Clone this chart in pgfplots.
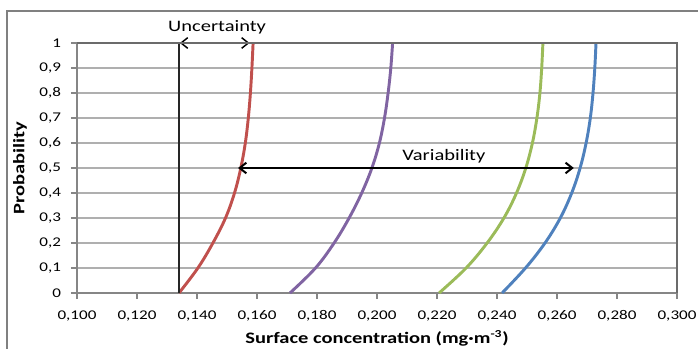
\documentclass[border=0pt]{standalone}
\usepackage{fontspec}
\setmainfont{Carlito}[FakeStretch=1.28]
\usepackage{pgfplots}
\pgfplotsset{compat=1.18}
\usetikzlibrary{arrows.meta}
\definecolor{xred}{RGB}{192,80,77}
\definecolor{xpurple}{RGB}{128,100,162}
\definecolor{xgreen}{RGB}{155,187,89}
\definecolor{xblue}{RGB}{79,129,189}
\definecolor{axgray}{RGB}{134,134,134}
\definecolor{gridgray}{RGB}{175,175,175}
\begin{document}
\begin{tikzpicture}
\begin{axis}[
  at={(0,0)}, anchor=south west,
  scale only axis, width=450pt, height=187.5pt,
  xmin=0.1, xmax=0.3, ymin=0, ymax=1,
  xtick={0.1,0.12,...,0.301}, ytick={0,0.1,...,1.01},
  /pgf/number format/assume math mode=true,
  xticklabel style={/pgf/number format/.cd, fixed, fixed zerofill, precision=3, use comma, /tikz/.cd, yshift=-5pt},
  yticklabel style={/pgf/number format/.cd, fixed, precision=1, use comma, /tikz/.cd, xshift=-4pt},
  tick label style={font=\fontsize{10}{12}\selectfont, text=black},
  tick align=outside, major tick length=4.5pt,
  xtick pos=bottom, ytick pos=left,
  ymajorgrids, grid style={gridgray, line width=0.9pt},
  axis line style={axgray, line width=0.8pt},
  tick style={axgray, line width=0.8pt},
  clip=false,
]
\addplot[xred, line width=2.2pt, smooth, tension=0.6, no marks] coordinates {(0.1340,0) (0.1403,0.1) (0.1453,0.2) (0.1495,0.3) (0.1525,0.4) (0.1546,0.5) (0.1561,0.6) (0.1571,0.7) (0.1578,0.8) (0.1583,0.9) (0.1587,1)};
\addplot[xpurple, line width=2.2pt, smooth, tension=0.6, no marks] coordinates {(0.1710,0) (0.1795,0.1) (0.1857,0.2) (0.1907,0.3) (0.1949,0.4) (0.1983,0.5) (0.2008,0.6) (0.2025,0.7) (0.2037,0.8) (0.2046,0.9) (0.2052,1)};
\addplot[xgreen, line width=2.2pt, smooth, tension=0.6, no marks] coordinates {(0.2207,0) (0.2297,0.1) (0.2367,0.2) (0.2423,0.3) (0.2465,0.4) (0.2496,0.5) (0.2518,0.6) (0.2533,0.7) (0.2543,0.8) (0.2549,0.9) (0.2553,1)};
\addplot[xblue, line width=2.2pt, smooth, tension=0.6, no marks] coordinates {(0.2417,0) (0.2495,0.1) (0.2560,0.2) (0.2611,0.3) (0.2649,0.4) (0.2677,0.5) (0.2697,0.6) (0.2711,0.7) (0.2720,0.8) (0.2726,0.9) (0.2730,1)};
\draw[black!85, line width=0.8pt] (axis cs:0.134,0) -- (axis cs:0.134,1);
\draw[black, line width=1.1pt, {Straight Barb[length=5pt,width=8pt]}-{Straight Barb[length=5pt,width=8pt]}] (axis cs:0.1343,1) -- (axis cs:0.1575,1);
\draw[black, line width=1.5pt, {Straight Barb[length=5pt,width=8pt]}-{Straight Barb[length=5pt,width=8pt]}] (axis cs:0.1537,0.5) -- (axis cs:0.2656,0.5);
\node[font=\fontsize{12}{14}\selectfont] at (axis cs:0.1467,1.064) {Uncertainty};
\node[font=\fontsize{12}{14}\selectfont] at (axis cs:0.2223,0.548) {Variability};
\end{axis}
\draw[axgray!80!black, line width=1.2pt] (0,187.5pt) -- (450pt,187.5pt) -- (450pt,0);
\node[rotate=90, font=\bfseries\fontsize{12}{14}\selectfont] at (-42.75pt,93.75pt) {Probability};
\node[font=\bfseries\fontsize{12}{14}\selectfont] at (225pt,-33.75pt) {Surface concentration (mg·m\textsuperscript{-3})};
\draw[gray, line width=1.2pt] (-52.5pt,-42pt) -- (-52.5pt,211.5pt) -- (465.75pt,211.5pt);
\pgfresetboundingbox
\useasboundingbox (-57.75pt,-42pt) rectangle (465.75pt,219.75pt);
\end{tikzpicture}
\end{document}
